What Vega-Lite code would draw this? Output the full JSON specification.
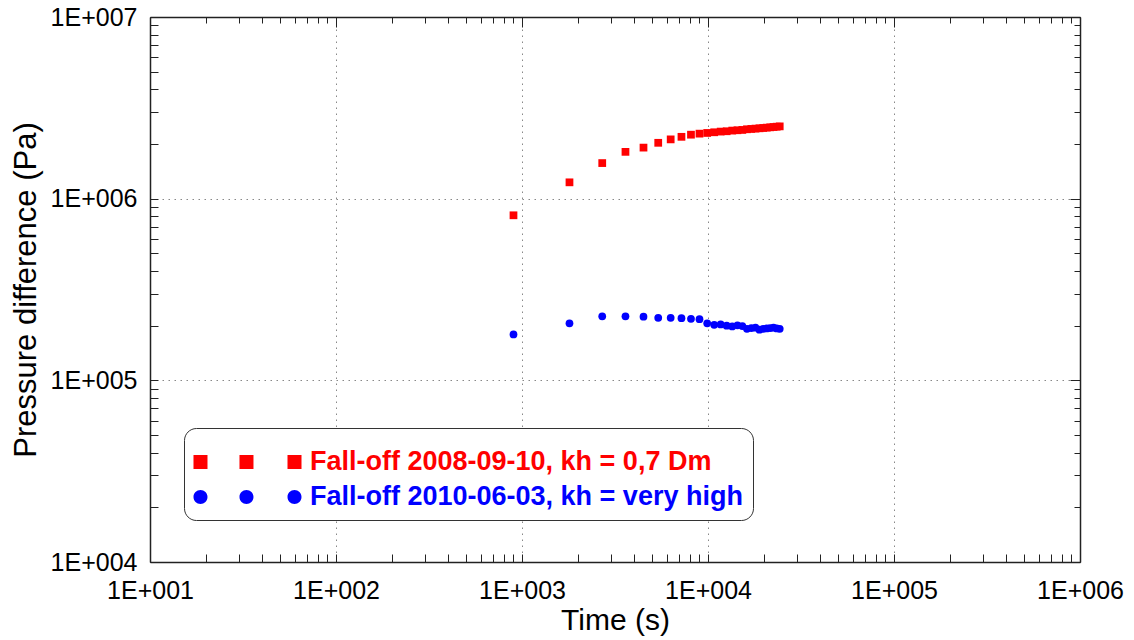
{
  "$schema": "https://vega.github.io/schema/vega-lite/v6.json",
  "width": 930,
  "height": 545,
  "autosize": {"type": "none"},
  "padding": {"left": 150, "top": 17, "right": 54, "bottom": 78},
  "background": "white",
  "config": {
    "font": "Liberation Sans",
    "view": {"stroke": null},
    "axis": {
      "labelFontSize": 25,
      "labelColor": "#000000",
      "titleFontSize": 30,
      "titleFontWeight": "normal",
      "titleColor": "#000000",
      "domainColor": "#222222",
      "domainWidth": 1.5,
      "tickColor": "#222222",
      "tickWidth": 1,
      "gridColor": "#888888",
      "gridDash": [1.5, 4.5],
      "gridWidth": 1,
      "labelOverlap": false,
      "labelBound": false,
      "labelFlush": false
    },
    "legend": {
      "labelFontSize": 27,
      "labelFontWeight": "bold",
      "labelLimit": 0,
      "strokeColor": "#333333",
      "fillColor": "#ffffff",
      "cornerRadius": 12,
      "padding": 9.5,
      "rowPadding": 7,
      "symbolSize": 196,
      "symbolStrokeWidth": 0,
      "labelOffset": 89.5
    }
  },
  "data": {
    "values": [
      {"t": 900, "p": 810000, "s": "Fall-off 2008-09-10, kh = 0,7 Dm"},
      {"t": 1800, "p": 1230000, "s": "Fall-off 2008-09-10, kh = 0,7 Dm"},
      {"t": 2700, "p": 1570000, "s": "Fall-off 2008-09-10, kh = 0,7 Dm"},
      {"t": 3600, "p": 1810000, "s": "Fall-off 2008-09-10, kh = 0,7 Dm"},
      {"t": 4500, "p": 1910000, "s": "Fall-off 2008-09-10, kh = 0,7 Dm"},
      {"t": 5400, "p": 2030000, "s": "Fall-off 2008-09-10, kh = 0,7 Dm"},
      {"t": 6300, "p": 2120000, "s": "Fall-off 2008-09-10, kh = 0,7 Dm"},
      {"t": 7200, "p": 2190000, "s": "Fall-off 2008-09-10, kh = 0,7 Dm"},
      {"t": 8100, "p": 2250000, "s": "Fall-off 2008-09-10, kh = 0,7 Dm"},
      {"t": 9000, "p": 2280000, "s": "Fall-off 2008-09-10, kh = 0,7 Dm"},
      {"t": 9900, "p": 2300000, "s": "Fall-off 2008-09-10, kh = 0,7 Dm"},
      {"t": 10800, "p": 2320000, "s": "Fall-off 2008-09-10, kh = 0,7 Dm"},
      {"t": 11700, "p": 2340000, "s": "Fall-off 2008-09-10, kh = 0,7 Dm"},
      {"t": 12600, "p": 2350000, "s": "Fall-off 2008-09-10, kh = 0,7 Dm"},
      {"t": 13500, "p": 2370000, "s": "Fall-off 2008-09-10, kh = 0,7 Dm"},
      {"t": 14400, "p": 2380000, "s": "Fall-off 2008-09-10, kh = 0,7 Dm"},
      {"t": 15300, "p": 2390000, "s": "Fall-off 2008-09-10, kh = 0,7 Dm"},
      {"t": 16200, "p": 2410000, "s": "Fall-off 2008-09-10, kh = 0,7 Dm"},
      {"t": 17100, "p": 2420000, "s": "Fall-off 2008-09-10, kh = 0,7 Dm"},
      {"t": 18000, "p": 2430000, "s": "Fall-off 2008-09-10, kh = 0,7 Dm"},
      {"t": 18900, "p": 2440000, "s": "Fall-off 2008-09-10, kh = 0,7 Dm"},
      {"t": 19800, "p": 2450000, "s": "Fall-off 2008-09-10, kh = 0,7 Dm"},
      {"t": 20700, "p": 2460000, "s": "Fall-off 2008-09-10, kh = 0,7 Dm"},
      {"t": 21600, "p": 2470000, "s": "Fall-off 2008-09-10, kh = 0,7 Dm"},
      {"t": 22500, "p": 2480000, "s": "Fall-off 2008-09-10, kh = 0,7 Dm"},
      {"t": 23400, "p": 2490000, "s": "Fall-off 2008-09-10, kh = 0,7 Dm"},
      {"t": 24300, "p": 2500000, "s": "Fall-off 2008-09-10, kh = 0,7 Dm"},
      {"t": 900, "p": 179000, "s": "Fall-off 2010-06-03, kh = very high"},
      {"t": 1800, "p": 206000, "s": "Fall-off 2010-06-03, kh = very high"},
      {"t": 2700, "p": 225000, "s": "Fall-off 2010-06-03, kh = very high"},
      {"t": 3600, "p": 225000, "s": "Fall-off 2010-06-03, kh = very high"},
      {"t": 4500, "p": 224000, "s": "Fall-off 2010-06-03, kh = very high"},
      {"t": 5400, "p": 221000, "s": "Fall-off 2010-06-03, kh = very high"},
      {"t": 6300, "p": 221000, "s": "Fall-off 2010-06-03, kh = very high"},
      {"t": 7200, "p": 220000, "s": "Fall-off 2010-06-03, kh = very high"},
      {"t": 8100, "p": 218000, "s": "Fall-off 2010-06-03, kh = very high"},
      {"t": 9000, "p": 217000, "s": "Fall-off 2010-06-03, kh = very high"},
      {"t": 9900, "p": 206000, "s": "Fall-off 2010-06-03, kh = very high"},
      {"t": 10800, "p": 202000, "s": "Fall-off 2010-06-03, kh = very high"},
      {"t": 11700, "p": 203000, "s": "Fall-off 2010-06-03, kh = very high"},
      {"t": 12600, "p": 200000, "s": "Fall-off 2010-06-03, kh = very high"},
      {"t": 13500, "p": 198000, "s": "Fall-off 2010-06-03, kh = very high"},
      {"t": 14400, "p": 201000, "s": "Fall-off 2010-06-03, kh = very high"},
      {"t": 15300, "p": 199000, "s": "Fall-off 2010-06-03, kh = very high"},
      {"t": 16200, "p": 192000, "s": "Fall-off 2010-06-03, kh = very high"},
      {"t": 17100, "p": 194000, "s": "Fall-off 2010-06-03, kh = very high"},
      {"t": 18000, "p": 195000, "s": "Fall-off 2010-06-03, kh = very high"},
      {"t": 18900, "p": 190000, "s": "Fall-off 2010-06-03, kh = very high"},
      {"t": 19800, "p": 192000, "s": "Fall-off 2010-06-03, kh = very high"},
      {"t": 20700, "p": 193000, "s": "Fall-off 2010-06-03, kh = very high"},
      {"t": 21600, "p": 194000, "s": "Fall-off 2010-06-03, kh = very high"},
      {"t": 22500, "p": 195000, "s": "Fall-off 2010-06-03, kh = very high"},
      {"t": 23400, "p": 193000, "s": "Fall-off 2010-06-03, kh = very high"},
      {"t": 24300, "p": 192000, "s": "Fall-off 2010-06-03, kh = very high"}
    ]
  },
  "resolve": {"axis": {"x": "independent", "y": "independent"}},
  "layer": [
    {
      "mark": {"type": "point", "filled": true, "opacity": 1, "size": 60, "strokeWidth": 0},
      "encoding": {
        "x": {
          "field": "t", "type": "quantitative",
          "scale": {"type": "log", "domain": [10, 1000000], "nice": false},
          "axis": {
            "orient": "bottom",
            "title": "Time (s)",
            "titlePadding": 2,
            "values": [10,20,30,40,50,60,70,80,90,100,200,300,400,500,600,700,800,900,1000,2000,3000,4000,5000,6000,7000,8000,9000,10000,20000,30000,40000,50000,60000,70000,80000,90000,100000,200000,300000,400000,500000,600000,700000,800000,900000,1000000],
            "labelExpr": "abs(log(datum.value)/LN10 - round(log(datum.value)/LN10)) < 0.001 ? '1E+00' + round(log(datum.value)/LN10) : ''",
            "grid": true,
            "gridOpacity": {"condition": {"test": "abs(log(datum.value)/LN10 - round(log(datum.value)/LN10)) < 0.001", "value": 1}, "value": 0},
            "tickSize": -8,
            "labelPadding": 24
          }
        },
        "y": {
          "field": "p", "type": "quantitative",
          "scale": {"type": "log", "domain": [10000, 10000000], "nice": false},
          "axis": {
            "orient": "left",
            "title": "Pressure difference (Pa)",
            "titleFontSize": 31,
            "titlePadding": 8,
            "values": [10000,20000,30000,40000,50000,60000,70000,80000,90000,100000,200000,300000,400000,500000,600000,700000,800000,900000,1000000,2000000,3000000,4000000,5000000,6000000,7000000,8000000,9000000,10000000],
            "labelExpr": "abs(log(datum.value)/LN10 - round(log(datum.value)/LN10)) < 0.001 ? '1E+00' + round(log(datum.value)/LN10) : ''",
            "grid": true,
            "gridOpacity": {"condition": {"test": "abs(log(datum.value)/LN10 - round(log(datum.value)/LN10)) < 0.001", "value": 1}, "value": 0},
            "tickSize": -8,
            "labelPadding": 21
          }
        },
        "color": {
          "field": "s", "type": "nominal",
          "scale": {"domain": ["Fall-off 2008-09-10, kh = 0,7 Dm", "Fall-off 2010-06-03, kh = very high"], "range": ["#ff0000", "#0000ff"]},
          "legend": {
            "title": " ",
            "titleFontSize": 11,
            "titlePadding": 0,
            "orient": "none",
            "legendX": 34,
            "legendY": 411,
            "symbolType": {"expr": "datum.value === 'Fall-off 2008-09-10, kh = 0,7 Dm' ? 'M-1.93,-1h2v2h-2z M4.64,-1h2v2h-2z M11.5,-1h2v2h-2z' : 'M0.07,0A1,1,0,1,1,-1.93,0A1,1,0,1,1,0.07,0Z M6.64,0A1,1,0,1,1,4.64,0A1,1,0,1,1,6.64,0Z M13.5,0A1,1,0,1,1,11.5,0A1,1,0,1,1,13.5,0Z'"},
            "labelColor": {"expr": "datum.value === 'Fall-off 2008-09-10, kh = 0,7 Dm' ? '#ff0000' : '#0000ff'"}
          }
        },
        "shape": {"condition": {"test": "datum.s === 'Fall-off 2008-09-10, kh = 0,7 Dm'", "value": "square"}, "value": "circle"}
      }
    },
    {
      "mark": {"type": "point", "opacity": 0},
      "encoding": {
        "x": {
          "field": "t", "type": "quantitative",
          "axis": {
            "orient": "top",
            "title": null,
            "labels": false,
            "grid": false,
            "values": [10,20,30,40,50,60,70,80,90,100,200,300,400,500,600,700,800,900,1000,2000,3000,4000,5000,6000,7000,8000,9000,10000,20000,30000,40000,50000,60000,70000,80000,90000,100000,200000,300000,400000,500000,600000,700000,800000,900000,1000000],
            "tickSize": {"condition": {"test": "abs(log(datum.value)/LN10 - round(log(datum.value)/LN10)) < 0.001", "value": -10}, "value": -6}
          }
        },
        "y": {
          "field": "p", "type": "quantitative",
          "axis": {
            "orient": "right",
            "title": null,
            "labels": false,
            "grid": false,
            "values": [10000,20000,30000,40000,50000,60000,70000,80000,90000,100000,200000,300000,400000,500000,600000,700000,800000,900000,1000000,2000000,3000000,4000000,5000000,6000000,7000000,8000000,9000000,10000000],
            "tickSize": {"condition": {"test": "abs(log(datum.value)/LN10 - round(log(datum.value)/LN10)) < 0.001", "value": -10}, "value": -6}
          }
        }
      }
    }
  ]
}
